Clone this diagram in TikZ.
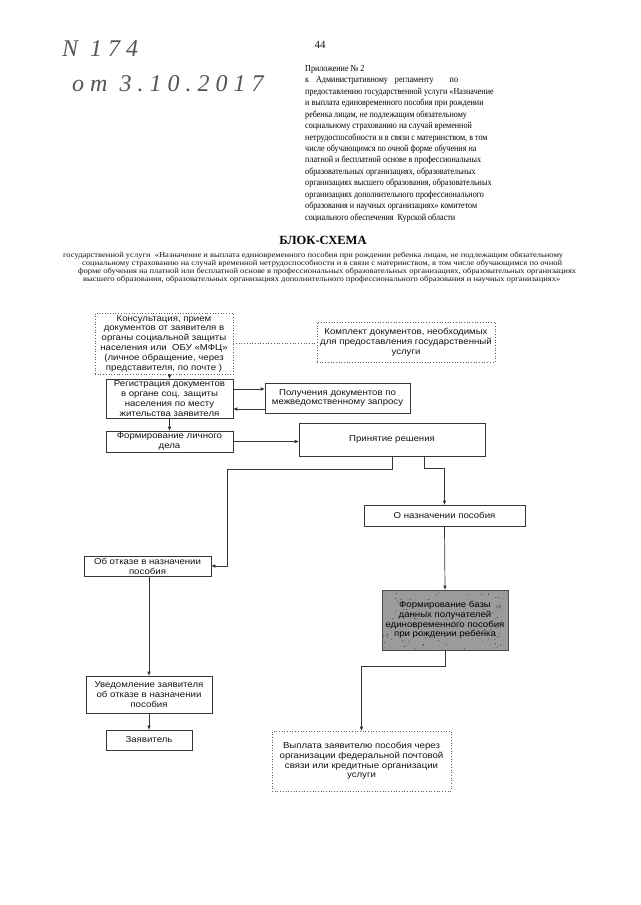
\documentclass[tikz,border=0pt]{standalone}
\usepackage{fontspec}
\setmainfont{Liberation Serif}
\setsansfont{Liberation Sans}
\newfontfamily\handfont[LetterSpace=25]{Liberation Serif}
\newfontfamily\boxfont[FakeStretch=1.12]{Liberation Sans}
\newfontfamily\annexfont[FakeStretch=0.88]{Liberation Serif}
\newfontfamily\subfont[FakeStretch=1.12]{Liberation Serif}
\usetikzlibrary{arrows.meta,calc}
\definecolor{linec}{RGB}{55,55,55}
\definecolor{boxgray}{RGB}{155,155,155}
\definecolor{txt}{RGB}{20,20,20}
\begin{document}
\begin{tikzpicture}[x=1pt,y=-1pt,
  box/.style={draw=linec, line width=0.7pt, inner sep=0pt, text=txt,
    font=\boxfont\fontsize{8.6}{9.8}\selectfont, align=center},
  dotbox/.style={box, draw=linec!80, dotted},
  graybox/.style={box, fill=boxgray, draw=linec!90},
  conn/.style={draw=linec, line width=0.7pt},
  arr/.style={conn, -{Triangle[length=4pt,width=3.2pt]}},
  dotconn/.style={draw=linec!80, line width=0.7pt, dotted},
  hdr/.style={inner sep=0pt, text=txt, align=left}
]
\useasboundingbox (0,0) rectangle (640,905);
\fill[white] (0,0) rectangle (640,905);

% handwritten registration mark
\node[hdr, anchor=west, text=linec!85, font=\handfont\itshape\fontsize{24}{26}\selectfont] (hw1) at (62,49) {N 174};
\node[hdr, anchor=west, text=linec!85, font=\handfont\itshape\fontsize{24}{26}\selectfont] (hw2) at (72,84) {от 3.10.2017};

% page number
\node[hdr, font=\fontsize{11}{13}\selectfont] (pnum) at (320,45) {44};

% annex header
\node[hdr, anchor=north west, text=black, font=\annexfont\fontsize{9.2}{11.46}\selectfont] (annex) at (305,65) {%
Приложение № 2\\
к\hspace{7pt}Административному\hspace{7pt}регламенту\hspace{16pt}по\\
предоставлению государственной услуги «Назначение\\
и выплата единовременного пособия при рождении\\
ребенка лицам, не подлежащим обязательному\\
социальному страхованию на случай временной\\
нетрудоспособности и в связи с материнством, в том\\
числе обучающимся по очной форме обучения на\\
платной и бесплатной основе в профессиональных\\
образовательных организациях, образовательных\\
организациях высшего образования, образовательных\\
организациях дополнительного профессионального\\
образования и научных организациях» комитетом\\
социального обеспечения\ \ Курской области};

% title
\node[hdr, text=black, font=\bfseries\fontsize{12.5}{14}\selectfont] (title) at (323,240) {БЛОК-СХЕМА};
\tikzset{subln/.style={hdr, anchor=base west, font=\subfont\fontsize{7.6}{8}\selectfont}}
\node[subln] (sub1) at (63,257.5) {государственной услуги\ \ «Назначение и выплата единовременного пособия при рождении ребенка лицам, не подлежащим обязательному};
\node[subln] (sub2) at (82,265.5) {социальному страхованию на случай временной нетрудоспособности и в связи с материнством, в том числе обучающимся по очной};
\node[subln] (sub3) at (78,273.5) {форме обучения на платной или бесплатной основе в профессиональных образовательных организациях, образовательных организациях};
\node[subln] (sub4) at (83,281.5) {высшего образования, образовательных организациях дополнительного профессионального образования и научных организациях»};

% boxes
\node[dotbox, minimum width=138, minimum height=61] (cons) at (164,343.5)
  {Консультация, прием\\документов от заявителя в\\органы социальной защиты\\населения или\ \ ОБУ «МФЦ»\\(личное обращение, через\\представителя, по почте )};
\node[dotbox, minimum width=178, minimum height=40] (kompl) at (406,342)
  {Комплект документов, необходимых\\для предоставления государственный\\услуги};
\node[box, minimum width=127, minimum height=39] (reg) at (169.5,398.5)
  {Регистрация документов\\в органе соц. защиты\\населения по месту\\жительства заявителя};
\node[box, minimum width=145, minimum height=30] (poluch) at (337.5,398)
  {Получения документов по\\межведомственному запросу};
\node[box, minimum width=127, minimum height=21] (form) at (169.5,441.5)
  {Формирование личного\\дела};
\node[box, minimum width=186, minimum height=33] (prin) at (392,439.5)
  {Принятие решения};
\node[box, minimum width=161, minimum height=21] (naz) at (444.5,515.5)
  {О назначении пособия};
\node[box, minimum width=127, minimum height=20] (otk) at (147.5,566)
  {Об отказе в назначении\\пособия};
\node[graybox, minimum width=126, minimum height=60] (baza) at (445,620) {};
% scanned speckle on the grey box
\pgfmathsetseed{17}
\foreach \i in {1,...,220}{
  \pgfmathsetmacro{\px}{383+124*rnd}
  \pgfmathsetmacro{\py}{591+58*rnd}
  \pgfmathsetmacro{\pc}{rnd>0.5 ? 35 : 85}
  \fill[black!\pc] (\px,\py) circle (0.45);
}
\node[box, draw=none, text=black] (bazatext) at (baza.center)
  {Формирование базы\\данных получателей\\единовременного пособия\\при рождении ребенка};
\node[box, minimum width=126, minimum height=37] (uved) at (149,694.5)
  {Уведомление заявителя\\об отказе в назначении\\пособия};
\node[box, minimum width=86, minimum height=20] (zayav) at (149,740)
  {Заявитель};
\node[dotbox, minimum width=179, minimum height=60] (vypl) at (361.5,761)
  {Выплата заявителю пособия через\\организации федеральной почтовой\\связи или кредитные организации\\услуги};

% connectors
\coordinate (c1) at (227,469);
\coordinate (rp1) at ($(reg.east)+(0,-9.5)$);
\coordinate (rp2) at ($(reg.east)+(0,10.5)$);
\draw[dotconn] (cons.east) -- (cons.east -| kompl.west);
\draw[arr] (cons.south -| reg.north) -- (reg.north);
\draw[arr] (rp1) -- (rp1 -| poluch.west);
\draw[arr] (rp2 -| poluch.west) -- (rp2);
\draw[arr] (reg.south) -- (form.north);
\draw[arr] (form.east) -- (form.east -| prin.west);
\draw[arr] (prin.south) |- (c1) |- (otk.east);
\draw[arr] ($(prin.south)+(32,0)$) -- ++(0,12) -| (naz.north);
\draw[arr] (naz.south) -- (baza.north);
\draw[arr] (otk.south -| uved.north) -- (uved.north);
\draw[arr] (uved.south) -- (zayav.north);
\draw[arr] (baza.south) -- ++(0,16) -| (vypl.north);
\end{tikzpicture}
\end{document}
